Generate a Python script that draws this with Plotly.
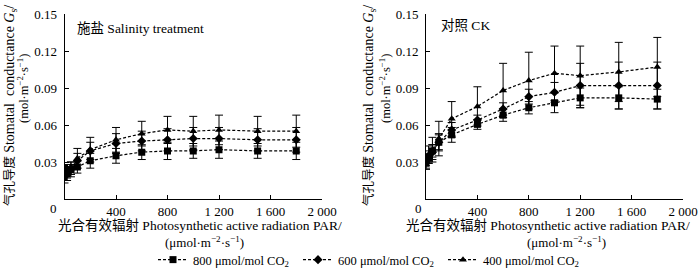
import plotly.graph_objects as go

# ---- data ----
par = [0, 20, 50, 100, 200, 400, 600, 800, 1000, 1200, 1500, 1800]

salt_800 = [0.025, 0.022, 0.024, 0.026, 0.031, 0.035, 0.038, 0.039, 0.039, 0.040, 0.039, 0.039]
salt_600 = [0.018, 0.021, 0.025, 0.031, 0.039, 0.045, 0.047, 0.048, 0.049, 0.049, 0.048, 0.048]
salt_400 = [0.016, 0.019, 0.024, 0.033, 0.040, 0.048, 0.053, 0.056, 0.055, 0.056, 0.055, 0.055]
salt_800_err = [0.003, 0.003, 0.004, 0.005, 0.006, 0.006, 0.006, 0.007, 0.006, 0.007, 0.006, 0.007]
salt_600_err = [0.003, 0.004, 0.005, 0.006, 0.007, 0.008, 0.008, 0.009, 0.009, 0.009, 0.009, 0.010]
salt_400_err = [0.003, 0.004, 0.006, 0.008, 0.010, 0.010, 0.010, 0.011, 0.012, 0.012, 0.012, 0.013]

ck_800 = [0.029, 0.033, 0.039, 0.046, 0.052, 0.0605, 0.068, 0.074, 0.078, 0.082, 0.082, 0.081]
ck_600 = [0.031, 0.034, 0.038, 0.046, 0.056, 0.064, 0.073, 0.083, 0.0865, 0.092, 0.092, 0.092]
ck_400 = [0.030, 0.036, 0.040, 0.049, 0.065, 0.075, 0.088, 0.096, 0.102, 0.100, 0.103, 0.107]
ck_800_err = [0.004, 0.004, 0.005, 0.006, 0.006, 0.004, 0.005, 0.005, 0.008, 0.008, 0.009, 0.008]
ck_600_err = [0.004, 0.005, 0.006, 0.007, 0.006, 0.004, 0.005, 0.006, 0.008, 0.018, 0.019, 0.019]
ck_400_err = [0.006, 0.007, 0.010, 0.014, 0.014, 0.016, 0.022, 0.023, 0.022, 0.024, 0.024, 0.024]

series_names = ["800 μmol/mol CO<sub>2</sub>", "600 μmol/mol CO<sub>2</sub>", "400 μmol/mol CO<sub>2</sub>"]
series_symbols = ["square", "diamond", "triangle-up"]

x_tickvals = [400, 800, 1200, 1600, 2000]
x_ticktext = ["400", "800", "1 200", "1 600", "2 000"]
y_tickvals = [0.03, 0.06, 0.09, 0.12, 0.15]
y_ticktext = ["0.03", "0.06", "0.09", "0.12", "0.15"]

FONT = '"Liberation Serif", "Noto Sans CJK SC", serif'

fig = go.Figure()

panels = [
    ("x", "y", [salt_800, salt_600, salt_400], [salt_800_err, salt_600_err, salt_400_err], True),
    ("x2", "y2", [ck_800, ck_600, ck_400], [ck_800_err, ck_600_err, ck_400_err], False),
]
for xa, ya, vals, errs, show in panels:
    for name, sym, v, e in zip(series_names, series_symbols, vals, errs):
        fig.add_trace(go.Scatter(
            x=par, y=v, xaxis=xa, yaxis=ya, name=name, showlegend=show,
            mode="lines+markers",
            line=dict(color="black", width=1.2, dash="3px,2px"),
            marker=dict(symbol=sym, size=7, color="black"),
            error_y=dict(type="data", array=e, visible=True, color="black", thickness=1, width=4),
        ))

axis_common = dict(
    showline=True, linecolor="black", linewidth=1, mirror=False,
    ticks="inside", ticklen=4, tickcolor="black", tickwidth=1,
    showgrid=False, zeroline=False, automargin=False,
    tickfont=dict(family=FONT, size=13, color="black"),
)

left_dom = [64.5 / 700, 322 / 700]
right_dom = [426 / 700, 683 / 700]
y_dom = [(272 - 199) / 272, (272 - 14) / 272]

fig.update_layout(
    width=700, height=272,
    margin=dict(l=0, r=0, t=0, b=0, pad=0, autoexpand=False),
    paper_bgcolor="white", plot_bgcolor="white",
    font=dict(family=FONT, size=13, color="black"),
    xaxis=dict(domain=left_dom, range=[0, 2000], tickvals=x_tickvals, ticktext=x_ticktext, anchor="y", **axis_common),
    yaxis=dict(domain=y_dom, range=[0, 0.15], tickvals=y_tickvals, ticktext=y_ticktext, anchor="x", ticklabelstandoff=4, **axis_common),
    xaxis2=dict(domain=right_dom, range=[0, 2000], tickvals=x_tickvals, ticktext=x_ticktext, anchor="y2", **axis_common),
    yaxis2=dict(domain=y_dom, range=[0, 0.15], tickvals=y_tickvals, ticktext=y_ticktext, anchor="x2", ticklabelstandoff=4, **axis_common),
    legend=dict(
        orientation="h", x=153 / 700, xanchor="left", y=(272 - 260) / 272, yanchor="middle",
        entrywidth=100, entrywidthmode="pixels",
        font=dict(family=FONT, size=12.5, color="black"),
        itemwidth=30, tracegroupgap=0, bgcolor="rgba(0,0,0,0)",
    ),
)

ann = []
def add(text, x, y, size=13, angle=0, xanchor="center"):
    ann.append(dict(text=text, x=x / 700, y=(272 - y) / 272, xref="paper", yref="paper",
                    showarrow=False, textangle=angle, xanchor=xanchor, yanchor="middle",
                    font=dict(family=FONT, size=size, color="black")))

# origin labels
add("0", 53, 208, size=13)
add("0", 418, 208, size=13)
# panel labels
add("施盐 Salinity treatment", 75, 29, size=13.5, xanchor="left")
add("对照 CK", 439, 25, size=13.5, xanchor="left")
# y titles
for cx1, cx2 in [(11, 23), (370, 385)]:
    add("<span style='color:black'>气孔导度</span> <span style='font-size:14px'>Stomatal  conductance <i>G</i><sub>s</sub>/</span>", cx1, 106, size=12.5, angle=-90)
    add("(mol·m<sup>−2</sup>·s<sup>−1</sup>)", cx2, 89, size=12.5, angle=-90)
# x titles
for cx1, cx2 in [(200, 204), (548, 566)]:
    add("光合有效辐射 Photosynthetic active radiation PAR/", cx1, 226, size=13.5)
    add("(μmol·m<sup>−2</sup>·s<sup>−1</sup>)", cx2, 242, size=13)

fig.update_layout(annotations=ann)
fig.write_html("out.html", config={"displayModeBar": False},
               post_script="document.body.style.margin='0';")
